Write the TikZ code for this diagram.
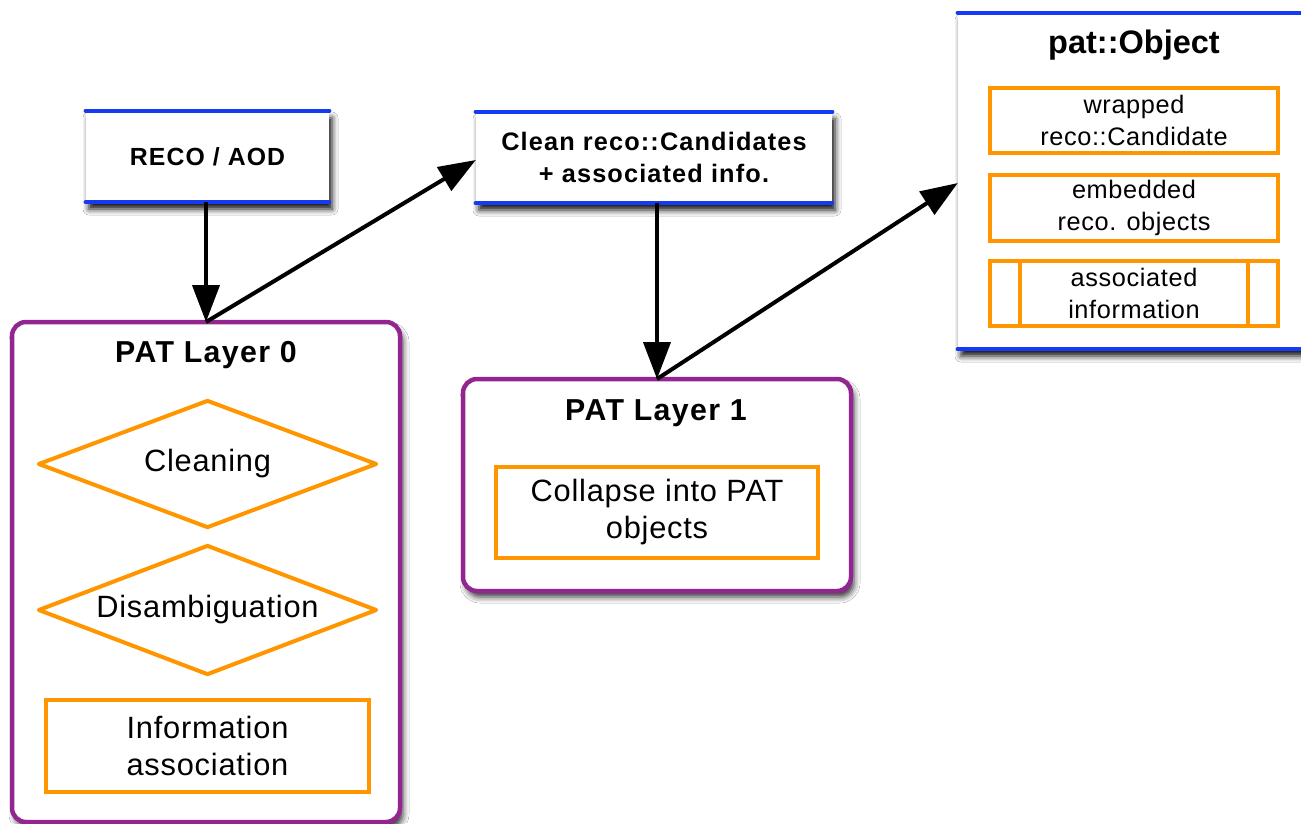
\documentclass[tikz,border=0pt]{standalone}
\usepackage{fontspec}
\setmainfont{Liberation Sans}
\newfontfamily\wider[LetterSpace=2.5]{Liberation Sans}
\newfontfamily\widerb[LetterSpace=4.5]{Liberation Sans}
\usetikzlibrary{arrows.meta,shapes.geometric,shadows.blur}
\definecolor{bl}{RGB}{22,58,242}
\definecolor{pu}{RGB}{147,37,145}
\definecolor{orng}{RGB}{255,150,0}
\tikzset{
  bluebox/.style={fill=white, inner sep=0pt, align=center,
    blur shadow={shadow xshift=3pt, shadow yshift=-7pt, shadow blur radius=6pt, shadow opacity=95}},
  blueline/.style={draw=bl, line width=4.5pt, line cap=round},
  layer/.style={draw=pu, line width=4.5pt, fill=white, rounded corners=14pt,
    blur shadow={shadow xshift=3pt, shadow yshift=-6pt, shadow blur radius=6pt, shadow opacity=80}},
  obox/.style={draw=orng, line width=4pt, fill=white, inner sep=0pt, align=center},
  odiam/.style={diamond, draw=orng, line width=4pt, fill=white, inner sep=0pt, aspect=2.65, line join=round},
  arr/.style={line width=4pt, -{Triangle[length=37pt, width=27pt]}},
  big/.style={font=\wider\fontsize{30.8}{37}\selectfont},
  btitle/.style={font=\widerb\bfseries\fontsize{30.3}{34}\selectfont},
  small/.style={font=\wider\fontsize{25.3}{32.5}\selectfont},
}
\begin{document}
\begin{tikzpicture}[x=1pt,y=-1pt]
\useasboundingbox (0,0) rectangle (1301,823);
\fill[white] (0,0) rectangle (1301,823);

% top blue boxes
\node[bluebox, minimum width=243pt, minimum height=91pt,
  font=\widerb\bfseries\fontsize{24.8}{30}\selectfont] (reco) at (207.5,156.5) {RECO / AOD};
\draw[blueline] (reco.north west) -- (reco.north east);
\draw[blueline] (reco.south west) -- (reco.south east);

\node[bluebox, minimum width=356pt, minimum height=91pt,
  font=\widerb\bfseries\fontsize{25.3}{32}\selectfont] (clean) at (654,157.5) {Clean reco::Candidates\\+ associated info.};
\draw[blueline] (clean.north west) -- (clean.north east);
\draw[blueline] (clean.south west) -- (clean.south east);

% pat::Object
\node[bluebox, minimum width=362pt, minimum height=336pt] (pat) at (1139,181) {};
\draw[blueline] (pat.north west) -- (pat.north east);
\draw[blueline] (pat.south west) -- (pat.south east);
\node[font=\fontsize{32.5}{36}\selectfont\bfseries] (pattitle) at (1134,45) {pat::Object};
\node[obox, small, line width=3.5pt, minimum width=288pt, minimum height=65pt] (wrap) at (1134,120.5) {wrapped\\reco::Candidate};
\node[obox, small, line width=3.5pt, minimum width=288pt, minimum height=66pt] (emb) at (1134,208) {embedded\\reco. objects};
\node[obox, small, line width=3.5pt, minimum width=288pt, minimum height=65pt] (assoc) at (1134,293.5) {associated\\information};
\draw[orng, line width=3.5pt] (assoc.north west -| 1020,0) -- (assoc.south west -| 1020,0);
\draw[orng, line width=3.5pt] (assoc.north east -| 1248,0) -- (assoc.south east -| 1248,0);

% PAT Layer 0
\node[layer, minimum width=388pt, minimum height=500pt] (l0) at (206,572) {};
\node[btitle] (l0t) at (206,355) {PAT Layer 0};
\node[odiam, big, minimum width=339pt, minimum height=128pt] (clg) at (207.5,464) {Cleaning};
\node[odiam, big, minimum width=339pt, minimum height=130pt] (dis) at (207.5,610) {Disambiguation};
\node[obox, big, minimum width=323pt, minimum height=92pt] (info) at (207.5,746) {Information\\association};

% PAT Layer 1
\node[layer, minimum width=388pt, minimum height=212pt] (l1) at (657,485) {};
\node[btitle] (l1t) at (656,413) {PAT Layer 1};
\node[obox, big, minimum width=322pt, minimum height=91pt] (coll) at (657,512.5) {Collapse into PAT\\objects};

% arrows
\coordinate (a0) at (206,322);
\coordinate (a1) at (657,379);
\coordinate (t0) at ([yshift=-2.5pt]clean.west);
\coordinate (t1) at ([yshift=-2pt]pat.west);
\draw[arr] (reco.south -| a0) -- (a0);
\draw[arr] (a0) -- (t0);
\draw[arr] (clean.south -| a1) -- (a1);
\draw[arr] (a1) -- (t1);
\end{tikzpicture}
\end{document}
